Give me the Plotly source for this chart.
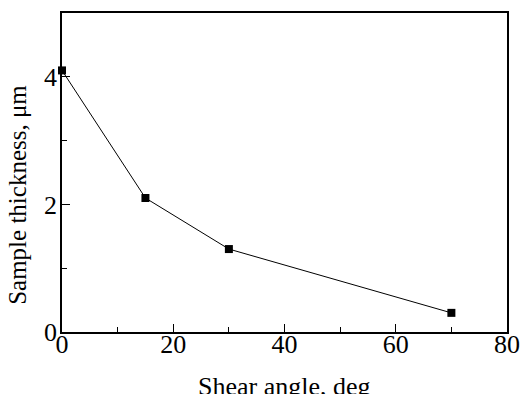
import plotly.graph_objects as go

shear_angle = [0, 15, 30, 70]
thickness = [4.1, 2.1, 1.3, 0.3]

FONT = "Liberation Serif, Times New Roman, serif"
W, H = 523, 394
L, R, T, B = 62, 16, 13, 62

fig = go.Figure()
fig.add_trace(go.Scatter(
    x=shear_angle, y=thickness, mode="lines+markers",
    line=dict(color="black", width=1),
    marker=dict(symbol="square", size=8, color="black"),
    cliponaxis=False, showlegend=False,
))

axis_common = dict(
    showgrid=False, zeroline=False, showline=True, linecolor="black", linewidth=1.5,
    mirror=True, ticks="inside", ticklen=8, tickwidth=1.2, tickcolor="black",
    tickfont=dict(family=FONT, size=26, color="black"), automargin=False,
)
fig.update_xaxes(range=[0, 80], dtick=20, ticklabelstandoff=-12,
                 minor=dict(ticks="inside", ticklen=5, dtick=10, tickcolor="black", tickwidth=1.2),
                 **axis_common)
fig.update_yaxes(range=[0, 5], tickvals=[0, 2, 4], ticklabelstandoff=-2,
                 minor=dict(ticks="inside", ticklen=5, tickvals=[1, 3, 5], tickcolor="black", tickwidth=1.2),
                 **axis_common)

fig.add_annotation(text="Shear angle, deg", xref="paper", yref="paper", x=0.5, y=0,
                   yshift=-38, yanchor="top", showarrow=False,
                   font=dict(family=FONT, size=26, color="black"))
fig.add_annotation(text="Sample thickness, μm", xref="paper", yref="paper", x=0, y=0.43,
                   xshift=-44, xanchor="center", textangle=-90, showarrow=False,
                   font=dict(family=FONT, size=25, color="black"))

fig.update_layout(width=W, height=H, margin=dict(l=L, r=R, t=T, b=B),
                  plot_bgcolor="white", paper_bgcolor="white")
fig.write_html("out.html")
